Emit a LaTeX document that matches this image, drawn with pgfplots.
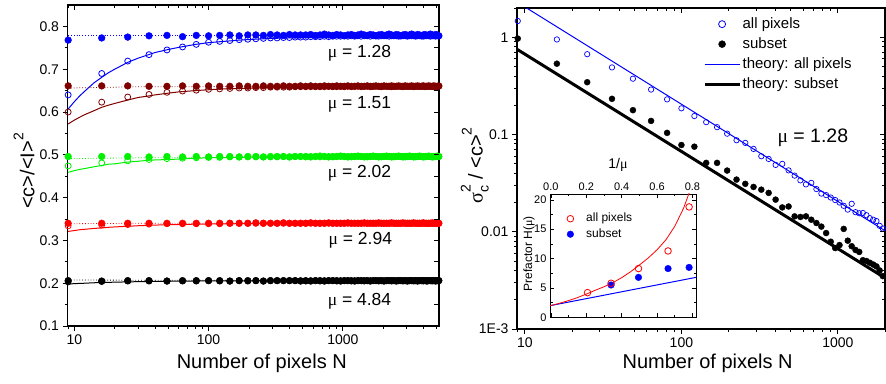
\documentclass[border=0pt]{standalone}
\usepackage{fontspec}
\setmainfont{Liberation Sans}
\newfontfamily\symf{Liberation Serif}
\usepackage{pgfplots}
\usepackage{pgfplotstable}
\pgfplotsset{compat=1.18}
\definecolor{cblue}{RGB}{0,0,255}
\definecolor{cdred}{RGB}{128,0,0}
\definecolor{cgreen}{RGB}{0,240,0}
\definecolor{cred}{RGB}{255,0,0}
\newcommand{\fs}[1]{\fontsize{#1}{#1}\selectfont}

\pgfplotstableread{
k N bf bo df dq gf go rf ro kf ko
3 9 0.768 0.640 0.661 0.600 0.496 0.474 0.340 0.334 0.206 0.203
4 16 0.773 0.690 0.661 0.623 0.496 0.481 0.340 0.336 0.205 0.204
5 25 0.775 0.719 0.661 0.635 0.496 0.486 0.340 0.337 0.206 0.205
6 36 0.778 0.734 0.660 0.641 0.495 0.489 0.340 0.338 0.206 0.205
7 49 0.779 0.745 0.660 0.646 0.496 0.491 0.340 0.339 0.205 0.205
8 64 0.776 0.752 0.661 0.649 0.495 0.492 0.340 0.339 0.206 0.205
9 81 0.779 0.758 0.660 0.651 0.496 0.493 0.340 0.339 0.206 0.205
10 100 0.778 0.763 0.661 0.653 0.495 0.494 0.340 0.339 0.206 0.206
11 121 0.779 0.765 0.660 0.654 0.496 0.494 0.340 0.339 0.206 0.205
12 144 0.780 0.767 0.660 0.655 0.496 0.495 0.340 0.340 0.205 0.205
13 169 0.778 0.769 0.661 0.656 0.495 0.495 0.340 0.340 0.206 0.206
14 196 0.780 0.770 0.660 0.656 0.496 0.495 0.340 0.340 0.206 0.205
15 225 0.780 0.771 0.660 0.657 0.496 0.495 0.341 0.340 0.206 0.206
16 256 0.779 0.772 0.661 0.657 0.495 0.495 0.340 0.340 0.205 0.205
17 289 0.781 0.773 0.660 0.658 0.496 0.495 0.340 0.340 0.206 0.206
18 324 0.780 0.773 0.660 0.658 0.496 0.495 0.340 0.340 0.206 0.206
19 361 0.779 0.774 0.661 0.658 0.496 0.496 0.341 0.340 0.206 0.206
20 400 0.781 0.774 0.660 0.658 0.495 0.495 0.340 0.340 0.206 0.206
21 441 0.780 0.775 0.660 0.659 0.496 0.496 0.340 0.340 0.206 0.206
22 484 0.780 0.775 0.661 0.659 0.496 0.496 0.340 0.340 0.205 0.206
23 529 0.780 0.775 0.660 0.659 0.496 0.495 0.340 0.340 0.206 0.205
24 576 0.781 0.776 0.661 0.659 0.495 0.496 0.341 0.340 0.205 0.206
25 625 0.779 0.776 0.660 0.659 0.496 0.496 0.340 0.340 0.206 0.206
26 676 0.780 0.776 0.660 0.659 0.497 0.495 0.340 0.340 0.206 0.205
27 729 0.782 0.777 0.661 0.659 0.496 0.496 0.340 0.340 0.205 0.206
28 784 0.780 0.776 0.660 0.660 0.495 0.496 0.341 0.340 0.206 0.206
29 841 0.779 0.777 0.660 0.659 0.496 0.495 0.340 0.340 0.206 0.206
30 900 0.781 0.777 0.661 0.659 0.496 0.496 0.340 0.340 0.206 0.205
31 961 0.780 0.777 0.660 0.660 0.497 0.496 0.340 0.340 0.205 0.206
32 1024 0.778 0.778 0.660 0.659 0.496 0.496 0.340 0.340 0.206 0.206
33 1089 0.780 0.777 0.661 0.660 0.495 0.496 0.341 0.340 0.206 0.206
34 1156 0.781 0.778 0.660 0.659 0.496 0.495 0.340 0.340 0.206 0.205
35 1225 0.779 0.777 0.660 0.660 0.496 0.496 0.340 0.340 0.205 0.206
36 1296 0.780 0.778 0.661 0.660 0.497 0.496 0.340 0.340 0.206 0.206
37 1369 0.782 0.777 0.660 0.659 0.496 0.496 0.340 0.340 0.206 0.206
38 1444 0.780 0.778 0.660 0.660 0.495 0.496 0.341 0.340 0.206 0.205
39 1521 0.779 0.778 0.661 0.660 0.496 0.495 0.340 0.340 0.206 0.206
40 1600 0.781 0.777 0.660 0.659 0.496 0.496 0.340 0.340 0.205 0.206
41 1681 0.780 0.778 0.660 0.660 0.497 0.496 0.340 0.340 0.206 0.206
42 1764 0.778 0.778 0.661 0.660 0.496 0.496 0.340 0.340 0.206 0.206
43 1849 0.780 0.777 0.660 0.660 0.495 0.496 0.341 0.340 0.206 0.205
44 1936 0.781 0.778 0.660 0.659 0.496 0.495 0.340 0.340 0.206 0.206
45 2025 0.779 0.778 0.661 0.660 0.496 0.496 0.340 0.340 0.205 0.206
46 2116 0.780 0.778 0.660 0.660 0.497 0.496 0.340 0.340 0.206 0.206
47 2209 0.782 0.777 0.660 0.660 0.496 0.496 0.340 0.340 0.206 0.206
48 2304 0.780 0.778 0.661 0.659 0.495 0.496 0.341 0.340 0.206 0.205
49 2401 0.779 0.778 0.660 0.660 0.496 0.495 0.340 0.340 0.206 0.206
50 2500 0.781 0.778 0.660 0.660 0.496 0.496 0.340 0.340 0.205 0.206
51 2601 0.780 0.777 0.661 0.660 0.497 0.496 0.340 0.340 0.206 0.206
52 2704 0.778 0.778 0.660 0.660 0.496 0.496 0.340 0.340 0.206 0.206
53 2809 0.780 0.778 0.660 0.659 0.495 0.496 0.341 0.340 0.206 0.205
54 2916 0.781 0.778 0.661 0.660 0.496 0.495 0.340 0.340 0.206 0.206
55 3025 0.779 0.777 0.660 0.660 0.496 0.496 0.340 0.340 0.205 0.206
56 3136 0.780 0.778 0.660 0.660 0.497 0.496 0.340 0.340 0.206 0.206
57 3249 0.782 0.778 0.661 0.660 0.496 0.496 0.340 0.340 0.206 0.206
58 3364 0.780 0.778 0.660 0.659 0.495 0.496 0.341 0.340 0.206 0.205
59 3481 0.779 0.777 0.660 0.660 0.496 0.495 0.340 0.340 0.206 0.206
60 3600 0.781 0.778 0.661 0.660 0.496 0.496 0.340 0.340 0.205 0.206
61 3721 0.780 0.778 0.660 0.660 0.497 0.496 0.340 0.340 0.206 0.206
62 3844 0.778 0.778 0.660 0.660 0.496 0.496 0.340 0.340 0.206 0.206
63 3969 0.780 0.777 0.661 0.660 0.495 0.496 0.341 0.340 0.206 0.205
64 4096 0.781 0.778 0.660 0.659 0.496 0.495 0.340 0.340 0.206 0.206
65 4225 0.779 0.778 0.660 0.660 0.496 0.496 0.340 0.340 0.205 0.206
66 4356 0.780 0.778 0.661 0.660 0.497 0.496 0.340 0.340 0.206 0.206
67 4489 0.782 0.777 0.660 0.660 0.496 0.496 0.340 0.340 0.206 0.206
68 4624 0.780 0.778 0.660 0.660 0.495 0.496 0.341 0.340 0.206 0.205
69 4761 0.779 0.778 0.661 0.659 0.496 0.495 0.340 0.340 0.206 0.206
70 4900 0.781 0.777 0.660 0.660 0.496 0.496 0.340 0.340 0.205 0.206
71 5041 0.780 0.778 0.660 0.660 0.497 0.496 0.340 0.340 0.206 0.206
72 5184 0.778 0.778 0.661 0.660 0.496 0.496 0.340 0.340 0.206 0.206
}\lefttab

\pgfplotstableread{
N cb cd cg cr ck
9 0.607 0.572 0.459 0.321 0.198
10 0.624 0.581 0.463 0.323 0.199
11 0.638 0.588 0.466 0.325 0.1995
12 0.649 0.594 0.468 0.326 0.200
14 0.668 0.603 0.472 0.328 0.201
16 0.681 0.611 0.475 0.329 0.2015
18 0.692 0.616 0.478 0.3306 0.202
20 0.700 0.620 0.479 0.3315 0.2024
25 0.716 0.628 0.483 0.333 0.2031
30 0.726 0.634 0.485 0.3343 0.2036
35 0.733 0.637 0.487 0.3351 0.2039
40 0.739 0.640 0.488 0.3358 0.2042
50 0.746 0.644 0.489 0.3366 0.2046
60 0.751 0.647 0.490 0.3372 0.2048
80 0.758 0.650 0.492 0.3379 0.2051
100 0.762 0.652 0.493 0.3383 0.2053
130 0.765 0.654 0.4935 0.3387 0.2054
170 0.768 0.655 0.494 0.339 0.2056
220 0.770 0.656 0.4945 0.3392 0.2057
300 0.772 0.657 0.495 0.3394 0.2058
400 0.773 0.658 0.4952 0.3396 0.2058
600 0.774 0.659 0.4954 0.3397 0.2059
1000 0.775 0.659 0.4957 0.3398 0.2059
2000 0.776 0.660 0.4958 0.3399 0.206
5200 0.777 0.660 0.496 0.340 0.206
}\curvetab

\pgfplotstableread{
N db dd dg dr dk
9 0.780 0.656 0.491 0.339 0.2075
30 0.780 0.659 0.493 0.340 0.207
5200 0.780 0.660 0.496 0.340 0.207
}\dottab

\pgfplotstableread{
N all sub
9 1.47 0.97
16 0.95 0.535
25 0.67 0.345
36 0.49 0.233
49 0.375 0.178
64 0.29 0.138
81 0.23 0.104
100 0.186 0.078
121 0.155 0.075
144 0.134 0.0511
169 0.119 0.0511
196 0.102 0.0426
225 0.0873 0.0344
256 0.082 0.0311
289 0.0711 0.0289
324 0.0598 0.0271
361 0.0561 0.0251
400 0.0487 0.0214
441 0.0499 0.0178
484 0.0428 0.0182
529 0.0378 0.0144
576 0.0338 0.0142
625 0.0307 0.0144
676 0.0318 0.0133
729 0.0275 0.0123
784 0.0247 0.0113
841 0.0238 0.0097
900 0.0225 0.0079
961 0.0212 0.0068
1024 0.0200 0.0073
1089 0.0185 0.0107
1156 0.0169 0.0081
1225 0.0194 0.0071
1296 0.0159 0.0065
1369 0.0155 0.0062
1444 0.0156 0.0051
1521 0.0148 0.0050
1600 0.0138 0.0048
1681 0.0133 0.0046
1764 0.0129 0.0044
1849 0.0115 0.0040
1936 0.0108 0.0035
}\righttab

\pgfplotstableread{
x H
-0.005 1.97
0.0 2.0
0.05 2.4
0.1 2.85
0.15 3.35
0.2 3.95
0.25 4.6
0.3 5.2
0.35 5.9
0.4 6.75
0.45 7.75
0.5 8.9
0.55 10.1
0.6 11.5
0.65 13.2
0.7 15.5
0.75 18.6
0.785 21.5
}\redcurve

\pgfplotsset{
  frame/.style={scale only axis, axis line style={line width=1.1pt},
    every tick/.style={black,line width=0.9pt}, major tick length=5pt, minor tick length=3pt,
    /pgf/number format/assume math mode=true, tick label style={font=\fs{14}}},
  legimg/.style={legend image code/.code={\draw[mark repeat=2,mark phase=2,##1] plot coordinates {(0pt,0pt) (17.5pt,0pt) (35pt,0pt)};}},
}

\begin{document}
\begin{tikzpicture}
\path[use as bounding box] (0,0) rectangle (886pt,383pt);

% ---------------- left panel -----------------
\begin{axis}[frame, at={(67.5pt,57pt)}, anchor=south west, width=371.5pt, height=321pt,
  xmode=log, xmin=8.9, xmax=5200, ymin=0.1, ymax=0.85,
  xtick={10,100,1000}, xticklabels={10,100,1000},
  minor xtick={9,20,30,40,50,60,70,80,90,200,300,400,500,600,700,800,900,2000,3000,4000,5000},
  ytick={0.1,0.2,0.3,0.4,0.5,0.6,0.7,0.8}, yticklabels={0.1,0.2,0.3,0.4,0.5,0.6,0.7,0.8},
  minor ytick={0.15,0.25,0.35,0.45,0.55,0.65,0.75},
  xtick pos=left, ytick pos=left, tick align=outside,
  xlabel={Number of pixels N}, xlabel style={font=\fs{20}, at={(axis description cs:0.523,-0.115)}, anchor=center},
  ylabel={<c>/<I>\raisebox{0.55em}{\fs{14}2}}, ylabel style={font=\fs{20}, at={(axis description cs:-0.117,0.483)}, anchor=center},
]
% blue mu=1.28
\addplot[cblue, dotted, line width=0.8pt] table[x=N,y=db]{\dottab};
\addplot[cblue, line width=1pt] table[x=N,y=cb]{\curvetab};
\addplot[only marks, mark=*, mark size=3.4pt, cblue] table[x=N,y=bf]{\lefttab};
\addplot[only marks, mark=o, mark size=3pt, cblue, mark options={line width=0.8pt}] table[x=N,y=bo]{\lefttab};
% dark red mu=1.51
\addplot[cdred, dotted, line width=0.8pt] table[x=N,y=dd]{\dottab};
\addplot[cdred, line width=1pt] table[x=N,y=cd]{\curvetab};
\addplot[only marks, mark=*, mark size=3.4pt, cdred] table[x=N,y=df]{\lefttab};
\addplot[only marks, mark=o, mark size=3pt, cdred, mark options={line width=0.8pt}] table[x=N,y=dq]{\lefttab};
% green mu=2.02
\addplot[cgreen, dotted, line width=0.8pt] table[x=N,y=dg]{\dottab};
\addplot[cgreen, line width=1pt] table[x=N,y=cg]{\curvetab};
\addplot[only marks, mark=*, mark size=3.4pt, cgreen] table[x=N,y=gf]{\lefttab};
\addplot[only marks, mark=o, mark size=3pt, cgreen, mark options={line width=0.8pt}] table[x=N,y=go]{\lefttab};
% red mu=2.94
\addplot[cred, dotted, line width=0.8pt] table[x=N,y=dr]{\dottab};
\addplot[cred, line width=1pt] table[x=N,y=cr]{\curvetab};
\addplot[only marks, mark=*, mark size=3.4pt, cred] table[x=N,y=rf]{\lefttab};
\addplot[only marks, mark=o, mark size=3pt, cred, mark options={line width=0.8pt}] table[x=N,y=ro]{\lefttab};
% black mu=4.84
\addplot[black, dotted, line width=0.8pt] table[x=N,y=dk]{\dottab};
\addplot[black, line width=1pt] table[x=N,y=ck]{\curvetab};
\addplot[only marks, mark=*, mark size=3.4pt, black] table[x=N,y=kf]{\lefttab};
\addplot[only marks, mark=o, mark size=3pt, black, mark options={line width=0.8pt}] table[x=N,y=ko]{\lefttab};

\node[font=\fs{17.5}] at (axis cs:1330,0.738) {{\symf μ} = 1.28};
\node[font=\fs{17.5}] at (axis cs:1330,0.617) {{\symf μ} = 1.51};
\node[font=\fs{17.5}] at (axis cs:1330,0.457) {{\symf μ} = 2.02};
\node[font=\fs{17.5}] at (axis cs:1350,0.301) {{\symf μ} = 2.94};
\node[font=\fs{17.5}] at (axis cs:1330,0.157) {{\symf μ} = 4.84};
\end{axis}
\begin{axis}[frame, at={(67.5pt,57pt)}, anchor=south west, width=371.5pt, height=321pt,
  xmode=log, xmin=8.9, xmax=5200, ymin=0.1, ymax=0.85,
  xtick={10,100,1000}, xticklabels={},
  minor xtick={9,20,30,40,50,60,70,80,90,200,300,400,500,600,700,800,900,2000,3000,4000,5000},
  ytick={0.1,0.15,0.2,0.25,0.3,0.35,0.4,0.45,0.5,0.55,0.6,0.65,0.7,0.75,0.8}, yticklabels={},
  xtick pos=right, ytick pos=right, tick align=inside, axis line style={draw=none}]
\end{axis}

% ---------------- right panel -----------------
\begin{axis}[frame, legimg, at={(517pt,54pt)}, anchor=south west, width=368pt, height=321pt,
  xmode=log, ymode=log, xmin=8.9, xmax=2000, ymin=0.001, ymax=2,
  xtick={10,100,1000}, xticklabels={10,100,1000},
  minor xtick={9,20,30,40,50,60,70,80,90,200,300,400,500,600,700,800,900,2000},
  ytick={0.001,0.01,0.1,1}, yticklabels={1E-3,0.01,0.1,1},
  minor ytick={0.002,0.003,0.004,0.005,0.006,0.007,0.008,0.009,0.02,0.03,0.04,0.05,0.06,0.07,0.08,0.09,0.2,0.3,0.4,0.5,0.6,0.7,0.8,0.9,2},
  xtick pos=left, ytick pos=left, tick align=outside,
  xlabel={Number of pixels N}, xlabel style={font=\fs{20}, at={(axis description cs:0.518,-0.106)}, anchor=center},
  ylabel={{\symf σ}\rlap{\raisebox{0.6em}{\fs{14}2}}\raisebox{-0.3em}{\fs{14}c} / <c>\raisebox{0.55em}{\fs{14}2}},
  ylabel style={font=\fs{20}, at={(axis description cs:-0.115,0.51)}, anchor=center},
  legend style={at={(axis description cs:0.497,0.983)}, anchor=north west, draw=none, fill=none,
    font=\fs{15}, row sep=3pt, nodes={inner sep=1.5pt, text height=11pt, text depth=3pt}},
  legend cell align=left,
]
\addlegendimage{only marks, mark=o, mark size=3.5pt, cblue, mark options={line width=0.8pt}}
\addlegendentry{all pixels}
\addlegendimage{only marks, mark=*, mark size=3.5pt, black}
\addlegendentry{subset}
\addlegendimage{cblue, line width=1pt}
\addlegendentry{theory: all pixels}
\addlegendimage{black, line width=3pt}
\addlegendentry{theory: subset}
\addplot[black, line width=3pt, forget plot] coordinates {(8.9,0.753) (2000,0.00335)};
\addplot[cblue, line width=1pt, forget plot] coordinates {(10,2.05) (2000,0.01025)};
\addplot[only marks, mark=*, mark size=3pt, black, forget plot] table[x=N,y=sub]{\righttab};
\addplot[only marks, mark=o, mark size=2.7pt, cblue, mark options={line width=0.7pt}, forget plot] table[x=N,y=all]{\righttab};
\node[font=\fs{19.5}] at (axis cs:692,0.093) {{\symf μ} = 1.28};
\end{axis}
\begin{axis}[frame, at={(517pt,54pt)}, anchor=south west, width=368pt, height=321pt,
  xmode=log, ymode=log, xmin=8.9, xmax=2000, ymin=0.001, ymax=2,
  xtick={10,100,1000}, xticklabels={},
  minor xtick={9,20,30,40,50,60,70,80,90,200,300,400,500,600,700,800,900,2000},
  ytick={0.001,0.01,0.1,1}, yticklabels={},
  minor ytick={0.002,0.003,0.004,0.005,0.006,0.007,0.008,0.009,0.02,0.03,0.04,0.05,0.06,0.07,0.08,0.09,0.2,0.3,0.4,0.5,0.6,0.7,0.8,0.9,2},
  xtick pos=right, ytick pos=right, tick align=inside, axis line style={draw=none}]
\end{axis}

% ---------------- inset -----------------
\begin{axis}[scale only axis, at={(550pt,65.7pt)}, anchor=south west, width=146pt, height=123.3pt,
  xmin=-0.005, xmax=0.82, ymin=0, ymax=21,
  axis background/.style={fill=white},
  axis line style={line width=0.9pt}, every tick/.style={black,line width=0.7pt},
  major tick length=4pt, minor tick length=2.5pt,
  tick align=inside,
  xtick={0,0.2,0.4,0.6,0.8}, xticklabels={0.0,0.2,0.4,0.6,0.8}, minor xtick={0.1,0.3,0.5,0.7},
  ytick={0,5,10,15,20}, yticklabels={0,5,10,15,20}, minor ytick={2.5,7.5,12.5,17.5},
  xticklabel pos=right,
  tick label style={font=\fs{11}},
  xlabel={1/{\symf μ}}, xlabel style={font=\fs{14}, at={(axis description cs:0.466,1)}, anchor=center, yshift=29pt},
  ylabel={Prefactor H({\symf μ})}, ylabel style={font=\fs{12}, at={(axis description cs:-0.144,0.513)}, anchor=center},
  legend image code/.code={\draw[mark repeat=2,mark phase=2,#1] plot coordinates {(0pt,0pt) (8pt,0pt) (16pt,0pt)};},
  legend style={at={(axis description cs:0.095,0.876)}, anchor=north west, draw=none, fill=none,
    font=\fs{12}, row sep=1pt, column sep=11pt, nodes={inner sep=1.5pt, text height=9pt, text depth=2.5pt}},
  legend cell align=left,
]
\addlegendimage{only marks, mark=o, mark size=3.3pt, cred, mark options={line width=0.8pt}}
\addlegendentry{all pixels}
\addlegendimage{only marks, mark=*, mark size=3.3pt, cblue}
\addlegendentry{subset}
\addplot[cblue, line width=1pt, forget plot] coordinates {(-0.005,1.98) (0.82,6.8)};
\addplot[cred, line width=0.8pt, forget plot] table[x=x,y=H]{\redcurve};
\addplot[only marks, mark=*, mark size=3.3pt, cblue, forget plot] coordinates {(0.340,5.5) (0.495,6.8) (0.662,8.3) (0.781,8.5)};
\addplot[only marks, mark=o, mark size=3.3pt, cred, mark options={line width=0.8pt}, forget plot] coordinates {(0.207,4.2) (0.340,5.8) (0.495,8.3) (0.662,11.3) (0.781,18.8)};
\end{axis}
\end{tikzpicture}
\end{document}
